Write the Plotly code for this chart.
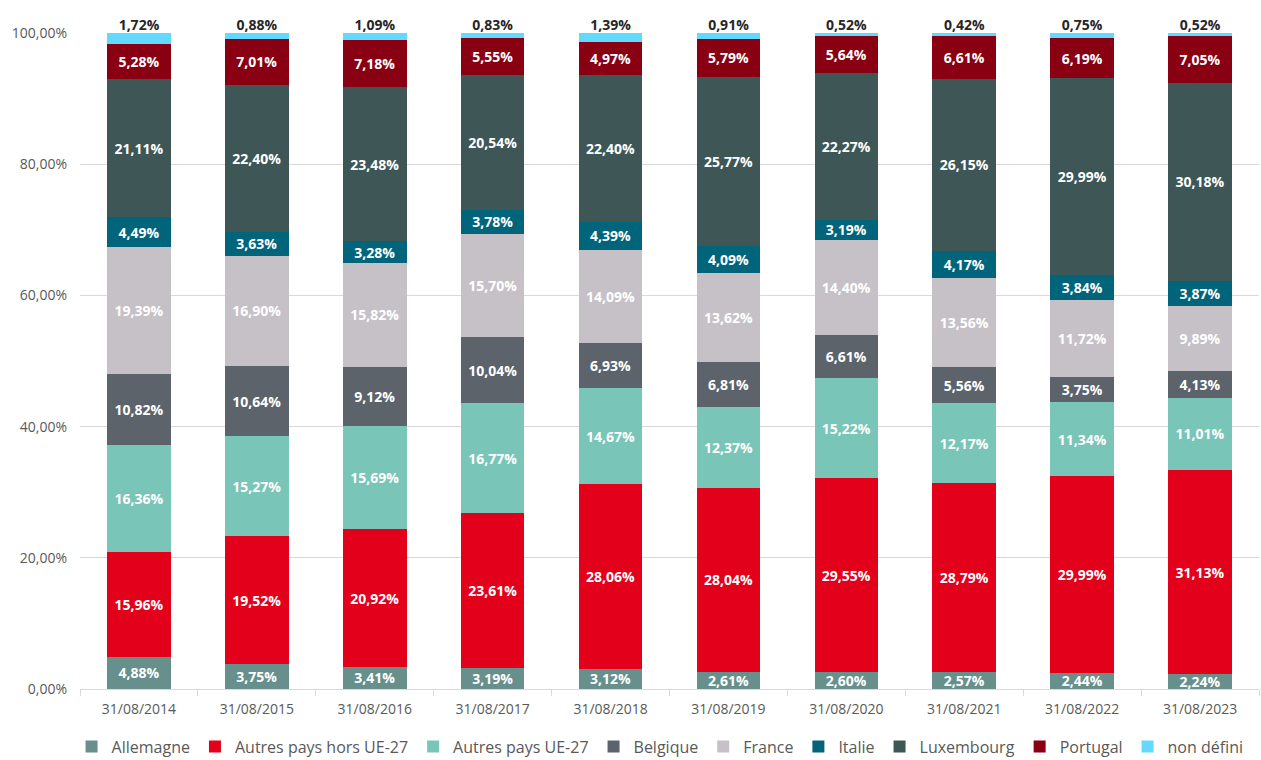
import plotly.graph_objects as go

categories = ["31/08/2014", "31/08/2015", "31/08/2016", "31/08/2017", "31/08/2018",
              "31/08/2019", "31/08/2020", "31/08/2021", "31/08/2022", "31/08/2023"]

allemagne = [4.88, 3.75, 3.41, 3.19, 3.12, 2.61, 2.60, 2.57, 2.44, 2.24]
hors_ue = [15.96, 19.52, 20.92, 23.61, 28.06, 28.04, 29.55, 28.79, 29.99, 31.13]
ue27 = [16.36, 15.27, 15.69, 16.77, 14.67, 12.37, 15.22, 12.17, 11.34, 11.01]
belgique = [10.82, 10.64, 9.12, 10.04, 6.93, 6.81, 6.61, 5.56, 3.75, 4.13]
france = [19.39, 16.90, 15.82, 15.70, 14.09, 13.62, 14.40, 13.56, 11.72, 9.89]
italie = [4.49, 3.63, 3.28, 3.78, 4.39, 4.09, 3.19, 4.17, 3.84, 3.87]
luxembourg = [21.11, 22.40, 23.48, 20.54, 22.40, 25.77, 22.27, 26.15, 29.99, 30.18]
portugal = [5.28, 7.01, 7.18, 5.55, 4.97, 5.79, 5.64, 6.61, 6.19, 7.05]
non_defini = [1.72, 0.88, 1.09, 0.83, 1.39, 0.91, 0.52, 0.42, 0.75, 0.52]

series = [
    ("Allemagne", allemagne, "#678F8B"),
    ("Autres pays hors UE-27", hors_ue, "#E2001A"),
    ("Autres pays UE-27", ue27, "#79C5B7"),
    ("Belgique", belgique, "#5C636B"),
    ("France", france, "#C6C1C7"),
    ("Italie", italie, "#00647A"),
    ("Luxembourg", luxembourg, "#3E5655"),
    ("Portugal", portugal, "#880012"),
    ("non défini", non_defini, "#62D9FF"),
]

FONT = "Open Sans"
fig = go.Figure()
for name, vals, color in series:
    last = name == "non défini"
    fig.add_trace(go.Bar(
        name=name, x=categories, y=vals,
        marker=dict(color=color, line=dict(width=0)),
        texttemplate="" if last else "%{y:.2f}%",
        textposition="none" if last else "inside",
        insidetextanchor="middle",
        textangle=0,
        textfont=dict(family=FONT, size=14, color="white", weight="bold"),
    ))

# labels for "non défini" placed above the top of each stack
totals = [min(sum(s[1][i] for s in series), 100.0) for i in range(len(categories))]
fig.add_trace(go.Scatter(
    x=categories, y=totals, mode="text",
    text=[f"{v:.2f}%".replace(".", ",") for v in non_defini],
    textposition="top center", cliponaxis=False, showlegend=False, hoverinfo="skip",
    textfont=dict(family=FONT, size=14, color="#262626", weight="bold"),
))

fig.update_layout(
    barmode="stack",
    bargap=0.46,
    separators=", ",
    width=1261, height=760,
    margin=dict(l=80, r=2, t=33, b=71, autoexpand=False),
    plot_bgcolor="white", paper_bgcolor="white",
    font=dict(family=FONT, color="#595959"),
    uniformtext=dict(minsize=14, mode="show"),
    showlegend=True,
    legend=dict(orientation="h", x=0.492, xanchor="center", y=-0.062, yanchor="top",
                font=dict(size=16, color="#595959", family=FONT), traceorder="normal",
                itemwidth=30),
    xaxis=dict(showline=True, linecolor="#D9D9D9", linewidth=1, ticks="outside",
               tickson="boundaries", tickcolor="#D9D9D9", ticklen=6,
               ticklabelstandoff=7, automargin=False,
               tickfont=dict(size=14, color="#595959")),
    yaxis=dict(range=[0, 100], dtick=20, tickformat=".2f", ticksuffix="%",
               showgrid=True, gridcolor="#D9D9D9", gridwidth=1, zeroline=False,
               ticklabelstandoff=12, automargin=False,
               tickfont=dict(size=14, color="#595959")),
)

fig.write_html("out.html", config={"displayModeBar": False},
               post_script="document.body.style.margin='0';")
